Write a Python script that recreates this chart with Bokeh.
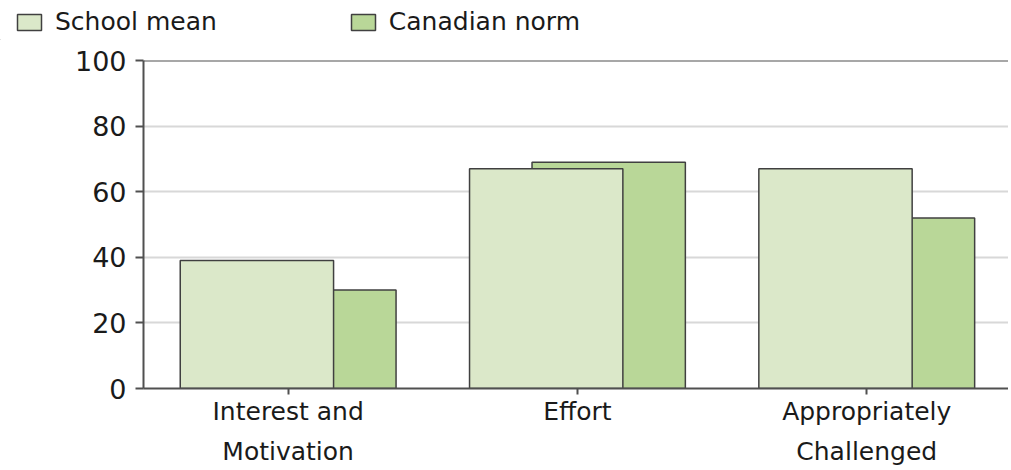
from bokeh.plotting import figure
from bokeh.models import (ColumnDataSource, Range1d, FixedTicker, Legend, LegendItem, Span)
from bokeh.layouts import column, row
from bokeh.transform import dodge
from bokeh.embed import file_html
from bokeh.resources import INLINE

categories = ["Interest and\nMotivation", "Effort", "Appropriately\nChallenged"]
series_names = ["School mean", "Canadian norm"]
school_mean = [39, 67, 67]
canadian_norm = [30, 69, 52]
y_ticks = [0, 20, 40, 60, 80, 100]

xpos = [i + 0.5 for i in range(len(categories))]
src = ColumnDataSource(dict(x=xpos, school=school_mean, canada=canadian_norm))

FONT = "DejaVu Sans"
TXT = "#1a1a1a"
AX = "#505050"
C_SCH = "#dbe8c9"
C_CAN = "#b9d798"
EDGE = "#404040"

# ---- legend strip ----
lg = figure(width=1008, height=40, output_backend="svg", toolbar_location=None,
            x_range=Range1d(0, 1), y_range=Range1d(0, 1), x_axis_type=None, y_axis_type=None,
            min_border=0)
lg.outline_line_color = None
lg.grid.visible = False
off = ColumnDataSource(dict(x=[-10], top=[-10]))
l_sch = lg.vbar(x="x", top="top", width=0.1, source=off, fill_color=C_SCH, line_color=EDGE, line_width=1.5)
l_can = lg.vbar(x="x", top="top", width=0.1, source=off, fill_color=C_CAN, line_color=EDGE, line_width=1.5)
legend = Legend(items=[LegendItem(label=series_names[0], renderers=[l_sch]),
                       LegendItem(label=series_names[1], renderers=[l_can])],
                orientation="horizontal", location=(14, 4),
                glyph_width=30, glyph_height=20, label_standoff=11, spacing=131,
                padding=0, margin=0, border_line_color=None, background_fill_alpha=0,
                label_text_font=FONT, label_text_font_size="25px", label_text_color=TXT,
                label_height=20)
lg.add_layout(legend, "center")

# ---- main chart ----
p = figure(width=1008, height=428, output_backend="svg", toolbar_location=None,
           x_range=Range1d(0, 2.99), y_range=Range1d(0, 100),
           min_border_left=143, min_border_right=0, min_border_top=20, min_border_bottom=80)
p.outline_line_color = None
p.background_fill_color = "white"

r_can = p.vbar(x=dodge("x", 0.108, range=p.x_range), top="canada", width=0.53, bottom=0,
               source=src, fill_color=C_CAN, line_color=EDGE, line_width=1.5)
r_sch = p.vbar(x=dodge("x", -0.108, range=p.x_range), top="school", width=0.53, bottom=0,
               source=src, fill_color=C_SCH, line_color=EDGE, line_width=1.5)

p.add_layout(Span(location=100, dimension="width", line_color=AX, line_width=2))

p.yaxis.ticker = FixedTicker(ticks=y_ticks)
p.yaxis.minor_tick_line_color = None
p.yaxis.major_tick_out = 8
p.yaxis.major_tick_in = 0
p.yaxis.major_label_standoff = 9
p.yaxis.axis_line_color = AX
p.yaxis.axis_line_width = 2
p.yaxis.major_tick_line_color = AX
p.yaxis.major_tick_line_width = 2
p.yaxis.major_label_text_font = FONT
p.yaxis.major_label_text_font_size = "27px"
p.yaxis.major_label_text_color = TXT

p.xaxis.ticker = FixedTicker(ticks=xpos)
p.xaxis.major_label_overrides = {x: c for x, c in zip(xpos, categories)}
p.xaxis.minor_tick_line_color = None
p.xaxis.major_tick_out = 6
p.xaxis.major_tick_in = 0
p.xaxis.major_label_standoff = 2
p.xaxis.axis_line_color = AX
p.xaxis.axis_line_width = 2
p.xaxis.major_tick_line_color = AX
p.xaxis.major_tick_line_width = 2
p.xaxis.major_label_text_font = FONT
p.xaxis.major_label_text_font_size = "25px"
p.xaxis.major_label_text_color = TXT
p.xaxis.major_label_text_line_height = 1.38

p.xgrid.grid_line_color = None
p.ygrid.ticker = FixedTicker(ticks=y_ticks)
p.ygrid.grid_line_color = "#d8d8d8"
p.ygrid.grid_line_width = 2

layout = column(row(lg), p, spacing=0)
open("out.html", "w").write(file_html(layout, INLINE))
